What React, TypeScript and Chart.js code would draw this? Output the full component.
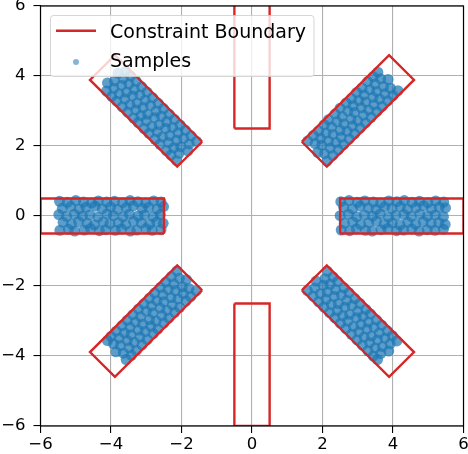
import React, { useEffect, useRef } from 'react';
import { Chart, registerables } from 'chart.js';

Chart.register(...registerables);

const AXIS_MIN = -6;
const AXIS_MAX = 6;
const TICK_STEP = 2;
const LEGEND_LABELS = ['Constraint Boundary', 'Samples'];

// Constraint boundary rectangles (closed polygons, data coordinates)
const rectTop = [[-0.5, 2.5], [0.5, 2.5], [0.5, 6.5], [-0.5, 6.5], [-0.5, 2.5]];
const rectBottom = [[-0.5, -2.5], [0.5, -2.5], [0.5, -6], [-0.5, -6], [-0.5, -2.5]];
const rectLeft = [[-2.5, -0.5], [-2.5, 0.5], [-6, 0.5], [-6, -0.5], [-2.5, -0.5]];
const rectRight = [[2.5, -0.5], [2.5, 0.5], [6, 0.5], [6, -0.5], [2.5, -0.5]];
const rectUpperRight = [[1.414, 2.121], [2.121, 1.414], [4.596, 3.889], [3.889, 4.596], [1.414, 2.121]];
const rectUpperLeft = [[-1.414, 2.121], [-2.121, 1.414], [-4.596, 3.889], [-3.889, 4.596], [-1.414, 2.121]];
const rectLowerLeft = [[-1.414, -2.121], [-2.121, -1.414], [-4.596, -3.889], [-3.889, -4.596], [-1.414, -2.121]];
const rectLowerRight = [[1.414, -2.121], [2.121, -1.414], [4.596, -3.889], [3.889, -4.596], [1.414, -2.121]];

// Samples, per region
const samplesLeft = [
  [-5.45, -0.41], [-5.21, -0.38], [-5.03, -0.43], [-4.76, -0.4], [-4.58, -0.36], [-4.33, -0.42], [-4.15, -0.39], [-3.88, -0.41], [-3.7, -0.37], [-3.45, -0.43], [-3.27, -0.4], [-3.01, -0.36], [-2.83, -0.41], [-2.58, -0.39],
  [-5.36, -0.18], [-5.12, -0.23], [-4.92, -0.16], [-4.68, -0.21], [-4.47, -0.25], [-4.22, -0.17], [-4.03, -0.22], [-3.79, -0.19], [-3.58, -0.24], [-3.36, -0.15], [-3.14, -0.2], [-2.9, -0.23], [-2.7, -0.17], [-2.52, -0.21],
  [-5.48, 0.04], [-5.26, -0.01], [-5.04, 0.05], [-4.81, 0.0], [-4.6, 0.03], [-4.37, -0.03], [-4.11, 0.06], [-3.93, 0.01], [-3.66, -0.02], [-3.48, 0.05], [-3.23, 0.0], [-3.05, 0.03], [-2.8, -0.02], [-2.6, 0.04],
  [-5.38, 0.22], [-5.14, 0.27], [-4.9, 0.2], [-4.71, 0.25], [-4.45, 0.28], [-4.25, 0.21], [-4.01, 0.26], [-3.81, 0.19], [-3.57, 0.24], [-3.37, 0.29], [-3.12, 0.22], [-2.93, 0.25], [-2.69, 0.2], [-2.51, 0.27],
  [-5.46, 0.42], [-5.24, 0.39], [-5.0, 0.44], [-4.78, 0.4], [-4.55, 0.37], [-4.36, 0.43], [-4.12, 0.4], [-3.9, 0.42], [-3.67, 0.38], [-3.46, 0.44], [-3.24, 0.41], [-3.02, 0.37], [-2.79, 0.43], [-2.58, 0.4],
];

const samplesRight = [
  [2.53, -0.4], [2.77, -0.42], [2.96, -0.37], [3.22, -0.41], [3.41, -0.43], [3.66, -0.39], [3.85, -0.36], [4.1, -0.42], [4.3, -0.4], [4.53, -0.37], [4.74, -0.43], [4.97, -0.39], [5.19, -0.41], [5.43, -0.38],
  [2.62, -0.21], [2.86, -0.17], [3.08, -0.24], [3.31, -0.19], [3.53, -0.15], [3.75, -0.22], [3.98, -0.2], [4.2, -0.25], [4.42, -0.18], [4.64, -0.23], [4.86, -0.16], [5.08, -0.21], [5.3, -0.19], [5.48, -0.24],
  [2.5, 0.01], [2.74, 0.05], [2.97, -0.02], [3.19, 0.03], [3.42, 0.0], [3.64, 0.06], [3.87, -0.03], [4.08, 0.02], [4.31, 0.04], [4.52, -0.01], [4.76, 0.05], [4.98, 0.0], [5.2, 0.03], [5.43, -0.02],
  [2.6, 0.25], [2.85, 0.21], [3.07, 0.28], [3.3, 0.23], [3.52, 0.19], [3.76, 0.26], [3.97, 0.22], [4.21, 0.27], [4.41, 0.2], [4.65, 0.24], [4.87, 0.29], [5.09, 0.21], [5.31, 0.25], [5.49, 0.23],
  [2.52, 0.41], [2.75, 0.44], [2.99, 0.39], [3.2, 0.43], [3.44, 0.4], [3.65, 0.37], [3.88, 0.43], [4.11, 0.41], [4.32, 0.44], [4.54, 0.39], [4.75, 0.42], [4.99, 0.38], [5.21, 0.43], [5.44, 0.4],
];

const samplesUpperRight = [
  [1.58, 2.14], [1.74, 2.3], [1.89, 2.43], [2.05, 2.61], [2.17, 2.75], [2.36, 2.92], [2.5, 3.08], [2.67, 3.23], [2.82, 3.36], [2.97, 3.53], [3.12, 3.66], [3.28, 3.84], [3.44, 3.98], [3.57, 4.11],
  [1.79, 2.07], [1.95, 2.22], [2.1, 2.37], [2.26, 2.54], [2.41, 2.69], [2.56, 2.84], [2.72, 3.0], [2.87, 3.15], [3.03, 3.3], [3.18, 3.46], [3.34, 3.61], [3.49, 3.77], [3.65, 3.92],
  [1.86, 1.82], [1.98, 2.02], [2.17, 2.14], [2.3, 2.33], [2.5, 2.45], [2.61, 2.63], [2.81, 2.77], [2.91, 2.96], [3.1, 3.09], [3.23, 3.26], [3.43, 3.39], [3.54, 3.56], [3.73, 3.7], [3.86, 3.9],
  [2.06, 1.78], [2.22, 1.94], [2.38, 2.1], [2.53, 2.25], [2.7, 2.42], [2.85, 2.57], [3.0, 2.72], [3.16, 2.88], [3.31, 3.03], [3.46, 3.18], [3.62, 3.34], [3.77, 3.49], [3.93, 3.65],
  [2.13, 1.57], [2.29, 1.73], [2.45, 1.89], [2.6, 2.04], [2.76, 2.2], [2.91, 2.35], [3.07, 2.51], [3.22, 2.66], [3.38, 2.82], [3.54, 2.98], [3.69, 3.13], [3.85, 3.29], [4.0, 3.44], [4.14, 3.58],
];

const samplesUpperLeft = [
  [-2.14, 1.58], [-2.3, 1.74], [-2.43, 1.87], [-2.61, 2.05], [-2.75, 2.19], [-2.92, 2.36], [-3.06, 2.5], [-3.23, 2.67], [-3.36, 2.8], [-3.53, 2.97], [-3.68, 3.12], [-3.84, 3.28], [-3.98, 3.42], [-4.13, 3.57],
  [-2.07, 1.79], [-2.22, 1.95], [-2.37, 2.1], [-2.54, 2.26], [-2.69, 2.41], [-2.84, 2.56], [-3.0, 2.72], [-3.15, 2.87], [-3.3, 3.03], [-3.46, 3.18], [-3.61, 3.34], [-3.77, 3.49], [-3.92, 3.65],
  [-1.82, 1.86], [-2.02, 1.98], [-2.14, 2.17], [-2.33, 2.3], [-2.45, 2.5], [-2.63, 2.61], [-2.77, 2.81], [-2.96, 2.91], [-3.09, 3.1], [-3.26, 3.23], [-3.39, 3.43], [-3.56, 3.54], [-3.7, 3.73], [-3.9, 3.86],
  [-1.78, 2.06], [-1.94, 2.22], [-2.1, 2.38], [-2.25, 2.53], [-2.42, 2.7], [-2.57, 2.85], [-2.72, 3.0], [-2.88, 3.16], [-3.03, 3.31], [-3.18, 3.46], [-3.34, 3.62], [-3.49, 3.77], [-3.65, 3.93],
  [-1.57, 2.13], [-1.73, 2.29], [-1.89, 2.45], [-2.04, 2.6], [-2.2, 2.76], [-2.35, 2.91], [-2.51, 3.07], [-2.66, 3.22], [-2.82, 3.38], [-2.98, 3.54], [-3.13, 3.69], [-3.29, 3.85], [-3.44, 4.0], [-3.58, 4.14],
  [-3.8, 4.08], [-4.1, 3.8],
];

const samplesLowerLeft = [
  [-1.58, -2.14], [-1.74, -2.3], [-1.87, -2.43], [-2.05, -2.61], [-2.19, -2.75], [-2.36, -2.92], [-2.5, -3.06], [-2.67, -3.23], [-2.8, -3.36], [-2.97, -3.53], [-3.12, -3.68], [-3.28, -3.84], [-3.42, -3.98], [-3.57, -4.1],
  [-1.79, -2.07], [-1.95, -2.22], [-2.1, -2.37], [-2.26, -2.54], [-2.41, -2.69], [-2.56, -2.84], [-2.72, -3.0], [-2.87, -3.15], [-3.03, -3.3], [-3.18, -3.46], [-3.34, -3.61], [-3.49, -3.77], [-3.65, -3.92],
  [-1.86, -1.82], [-1.98, -2.02], [-2.17, -2.14], [-2.3, -2.33], [-2.5, -2.45], [-2.61, -2.63], [-2.81, -2.77], [-2.91, -2.96], [-3.1, -3.09], [-3.23, -3.26], [-3.43, -3.39], [-3.54, -3.56], [-3.73, -3.7], [-3.86, -3.88],
  [-2.06, -1.78], [-2.22, -1.94], [-2.38, -2.1], [-2.53, -2.25], [-2.7, -2.42], [-2.85, -2.57], [-3.0, -2.72], [-3.16, -2.88], [-3.31, -3.03], [-3.46, -3.18], [-3.62, -3.34], [-3.77, -3.49], [-3.93, -3.65],
  [-2.13, -1.57], [-2.29, -1.73], [-2.45, -1.89], [-2.6, -2.04], [-2.76, -2.2], [-2.91, -2.35], [-3.07, -2.51], [-3.22, -2.66], [-3.38, -2.82], [-3.54, -2.98], [-3.69, -3.13], [-3.85, -3.29], [-4.0, -3.44], [-4.1, -3.56],
];

const samplesLowerRight = [
  [2.14, -1.58], [2.3, -1.74], [2.43, -1.87], [2.61, -2.05], [2.75, -2.19], [2.92, -2.36], [3.06, -2.5], [3.23, -2.67], [3.36, -2.8], [3.53, -2.97], [3.68, -3.12], [3.84, -3.28], [3.98, -3.42], [4.11, -3.57],
  [2.07, -1.79], [2.22, -1.95], [2.37, -2.1], [2.54, -2.26], [2.69, -2.41], [2.84, -2.56], [3.0, -2.72], [3.15, -2.87], [3.3, -3.03], [3.46, -3.18], [3.61, -3.34], [3.77, -3.49], [3.92, -3.65],
  [1.82, -1.86], [2.02, -1.98], [2.14, -2.17], [2.33, -2.3], [2.45, -2.5], [2.63, -2.61], [2.77, -2.81], [2.96, -2.91], [3.09, -3.1], [3.26, -3.23], [3.39, -3.43], [3.56, -3.54], [3.7, -3.73], [3.88, -3.86],
  [1.78, -2.06], [1.94, -2.22], [2.1, -2.38], [2.25, -2.53], [2.42, -2.7], [2.57, -2.85], [2.72, -3.0], [2.88, -3.16], [3.03, -3.31], [3.18, -3.46], [3.34, -3.62], [3.49, -3.77], [3.65, -3.93],
  [1.57, -2.13], [1.73, -2.29], [1.89, -2.45], [2.04, -2.6], [2.2, -2.76], [2.35, -2.91], [2.51, -3.07], [2.66, -3.22], [2.82, -3.38], [2.98, -3.54], [3.13, -3.69], [3.29, -3.85], [3.44, -4.0], [3.56, -4.1],
];

const RED = '#d62728';
const BLUE = 'rgba(31,119,180,0.72)';
const LEGEND_BLUE = 'rgba(31,119,180,0.55)';
const FONT = 'DejaVu Sans';

const toPts = (arr: number[][]) => arr.map(([x, y]) => ({ x, y }));

const fmt = (v: any) => {
  const n = Number(v);
  return n < 0 ? '\u2212' + Math.abs(n) : String(n);
};

const overlayPlugin = {
  id: 'frameAndLegend',
  afterDatasetsDraw(chart: any) {
    const { ctx, chartArea: a } = chart;
    ctx.save();
    ctx.strokeStyle = '#000';
    ctx.lineWidth = 1.2;
    ctx.strokeRect(a.left, a.top, a.right - a.left, a.bottom - a.top);

    // legend box
    const lx = 50.5, ly = 15.5, lw = 263.5, lh = 61;
    ctx.beginPath();
    if (ctx.roundRect) ctx.roundRect(lx, ly, lw, lh, 3);
    else ctx.rect(lx, ly, lw, lh);
    ctx.fillStyle = 'rgba(255,255,255,0.8)';
    ctx.fill();
    ctx.strokeStyle = 'rgba(204,204,204,0.8)';
    ctx.lineWidth = 1;
    ctx.stroke();

    ctx.strokeStyle = RED;
    ctx.lineWidth = 2.4;
    ctx.beginPath();
    ctx.moveTo(56, 30.7);
    ctx.lineTo(96, 30.7);
    ctx.stroke();

    ctx.fillStyle = LEGEND_BLUE;
    ctx.beginPath();
    ctx.arc(76, 62, 3, 0, Math.PI * 2);
    ctx.fill();

    ctx.fillStyle = '#000';
    ctx.font = `19px "${FONT}"`;
    ctx.textAlign = 'left';
    ctx.textBaseline = 'alphabetic';
    ctx.fillText(LEGEND_LABELS[0], 110, 37.5);
    ctx.fillText(LEGEND_LABELS[1], 110, 67);
    ctx.restore();
  },
};

export default function App() {
  const ref = useRef<HTMLCanvasElement | null>(null);

  useEffect(() => {
    if (!ref.current) return;
    const rects = [rectTop, rectBottom, rectLeft, rectRight, rectUpperRight, rectUpperLeft, rectLowerLeft, rectLowerRight];
    const lineSets = rects.map((r) => ({
      label: LEGEND_LABELS[0],
      data: toPts(r),
      showLine: true,
      borderColor: RED,
      backgroundColor: RED,
      borderWidth: 2.4,
      pointRadius: 0,
      fill: false,
      tension: 0,
      order: 0,
    }));
    const samples = [
      ...samplesLeft, ...samplesRight, ...samplesUpperRight,
      ...samplesUpperLeft, ...samplesLowerLeft, ...samplesLowerRight,
    ];
    const scatterSet = {
      label: LEGEND_LABELS[1],
      data: toPts(samples),
      showLine: false,
      pointRadius: 5.5,
      pointBorderWidth: 0,
      borderWidth: 0,
      backgroundColor: BLUE,
      pointBackgroundColor: BLUE,
      order: 1,
    };

    const axis = (isX: boolean) => ({
      type: 'linear' as const,
      min: AXIS_MIN,
      max: AXIS_MAX,
      ticks: {
        stepSize: TICK_STEP,
        autoSkip: false,
        maxRotation: 0,
        color: '#000',
        font: { family: FONT, size: 16.5 },
        padding: isX ? 2 : 8,
        callback: (v: any) => fmt(v),
      },
      grid: {
        color: '#b0b0b0',
        lineWidth: 1.1,
        tickColor: '#000',
        tickLength: 7,
        drawTicks: true,
      },
      border: { display: false },
      afterFit: (s: any) => {
        if (isX) s.height = 28;
        else s.width = 40.5;
        s.paddingLeft = 0;
        s.paddingRight = 0;
        s.paddingTop = 0;
        s.paddingBottom = 0;
      },
    });

    const chart = new Chart(ref.current, {
      type: 'scatter',
      data: { datasets: [...lineSets, scatterSet] as any },
      options: {
        animation: false,
        responsive: false,
        devicePixelRatio: 1,
        layout: { padding: { top: 6, right: 4.5, left: 0, bottom: 0 }, autoPadding: false } as any,
        plugins: {
          legend: { display: false },
          tooltip: { enabled: false },
        },
        scales: { x: axis(true), y: axis(false) } as any,
      },
      plugins: [overlayPlugin],
    });
    return () => chart.destroy();
  }, []);

  return (
    <div style={{ position: 'absolute', left: 0, top: 0, width: 468, height: 454, background: '#fff' }}>
      <canvas ref={ref} width={468} height={454} style={{ display: 'block' }} />
    </div>
  );
}
